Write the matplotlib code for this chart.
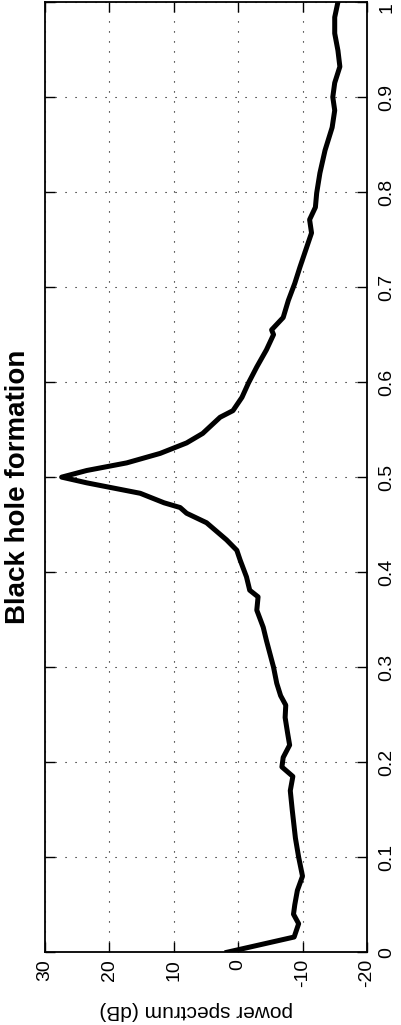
import matplotlib
matplotlib.use("Agg")
from matplotlib import pyplot as plt

plt.rcParams['font.family'] = ['Liberation Sans', 'DejaVu Sans']

# frequency (normalised) and power spectrum (dB)
freq = [0, 0.016, 0.03, 0.04, 0.05, 0.065, 0.08, 0.1, 0.12, 0.15, 0.17,
        0.185, 0.195, 0.205, 0.218, 0.23, 0.247, 0.26, 0.27, 0.283, 0.3,
        0.328, 0.342, 0.36, 0.374, 0.381, 0.395, 0.413, 0.423, 0.434,
        0.452, 0.462, 0.468, 0.473, 0.483, 0.494, 0.5, 0.507, 0.515, 0.525,
        0.536, 0.546, 0.563, 0.57, 0.584, 0.599, 0.616, 0.634, 0.65, 0.655,
        0.668, 0.686, 0.704, 0.721, 0.735, 0.757, 0.771, 0.784, 0.799,
        0.82, 0.844, 0.868, 0.886, 0.9, 0.915, 0.932, 0.949, 0.967, 0.984,
        1.0]
power = [1.7, -8.7, -9.4, -8.6, -8.8, -9.2, -10.0, -9.4, -8.9, -8.4, -8.1,
         -8.5, -6.8, -7.0, -8.0, -7.7, -7.3, -7.4, -6.6, -6.0, -5.5,
         -4.4, -3.9, -2.9, -3.1, -1.8, -1.3, -0.3, 0.2, 1.8,
         4.9, 8.0, 9.0, 11.5, 15.2, 23.5, 27.4, 23.5, 17.3, 12.1,
         8.0, 5.5, 2.8, 0.8, -0.6, -1.6, -2.9, -4.4, -5.5, -5.2,
         -7.0, -7.8, -8.8, -9.6, -10.3, -11.4, -11.1, -12.0, -12.2,
         -12.7, -13.5, -14.6, -15.0, -14.7, -15.0, -15.8, -15.5, -15.0, -15.0,
         -15.5]

power_ticks = [30, 20, 10, 0, -10, -20]
freq_ticks = [0, 0.1, 0.2, 0.3, 0.4, 0.5, 0.6, 0.7, 0.8, 0.9, 1]
freq_labels = ['0', '0.1', '0.2', '0.3', '0.4', '0.5', '0.6', '0.7', '0.8', '0.9', '1']

fig = plt.figure(figsize=(4.01, 10.25), dpi=100)
ax = fig.add_axes([0.112, 0.071, 0.803, 0.927])

# the figure is a landscape plot turned a quarter turn anticlockwise
ax.plot(power, freq, color='black', linewidth=3.6, solid_joinstyle='round')

ax.set_xlim(30, -20)
ax.set_ylim(0, 1)
ax.set_xticks(power_ticks)
ax.set_xticklabels([str(t) for t in power_ticks])
ax.set_yticks(freq_ticks)
ax.set_yticklabels(freq_labels)

ax.grid(True, color='black', linestyle=(0, (1, 8)), linewidth=0.8)
ax.tick_params(axis='both', direction='in', length=7, width=1,
               top=True, bottom=True, left=True, right=True, labelsize=14)
ax.tick_params(axis='x', labelrotation=90, pad=5)
ax.tick_params(axis='y', labelleft=False, labelright=True, labelrotation=90, pad=8)
for lab in ax.get_yticklabels():
    lab.set_verticalalignment('center')
# keep the top label inside the figure
ax.get_yticklabels()[-1].set_verticalalignment('top')
for s in ax.spines.values():
    s.set_linewidth(1.3)

fig.text(0.045, 0.525, 'Black hole formation', rotation=90, fontsize=20,
         fontweight='bold', ha='center', va='center')
fig.text(0.49, 0.014, 'power spectrum (dB)', rotation=180, fontsize=15,
         ha='center', va='center')

fig.savefig('out.png', dpi=100)
